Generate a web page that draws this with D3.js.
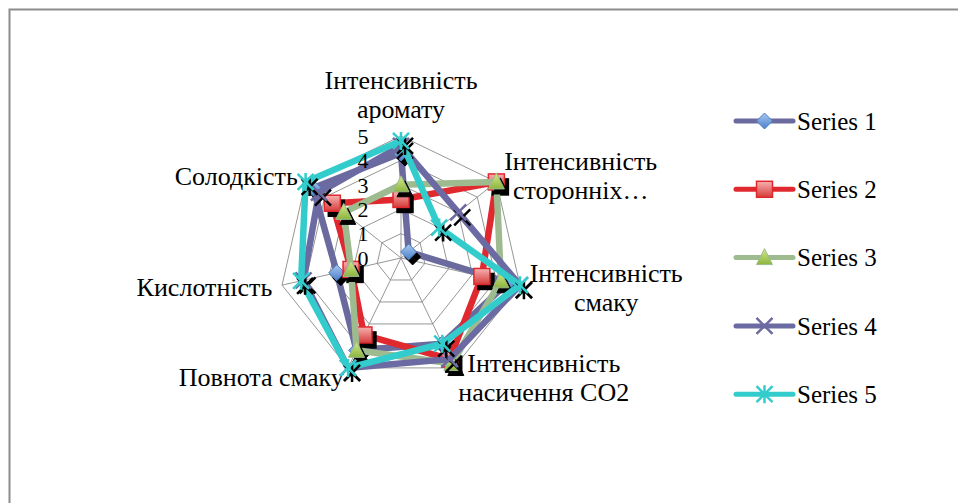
<!DOCTYPE html>
<html>
<head>
<meta charset="utf-8">
<script src="https://cdn.jsdelivr.net/npm/d3@7"></script>
<style>
  html, body { margin: 0; padding: 0; background: #fff; }
  svg { display: block; }
  text { font-family: "Liberation Serif", "Times New Roman", serif; fill: #000; }
</style>
</head>
<body>
<svg id="chart" width="958" height="503"></svg>
<script>
// Axis categories (one label per spoke, clockwise from the top)
const categories = [
  "Інтенсивність аромату",
  "Інтенсивність сторонніх…",
  "Інтенсивність смаку",
  "Інтенсивність насичення СО2",
  "Повнота смаку",
  "Кислотність",
  "Солодкість"
];
// Line breaks used when the category names are printed
const categoryLines = [
  ["Інтенсивність", "аромату"],
  ["Інтенсивність", "сторонніх…"],
  ["Інтенсивність", "смаку"],
  ["Інтенсивність", "насичення СО2"],
  ["Повнота смаку"],
  ["Кислотність"],
  ["Солодкість"]
];

const seriesNames = ["Series 1", "Series 2", "Series 3", "Series 4", "Series 5"];
const series1 = [4.3, 0.4, 4.5, 3.9, 4.2, 2.7, 4.6];
const series2 = [2.4, 5.0, 3.4, 4.6, 3.5, 2.1, 3.6];
const series3 = [3.0, 5.0, 4.2, 4.8, 4.2, 2.1, 3.0];
const series4 = [4.6, 3.0, 5.0, 4.6, 5.0, 4.1, 4.3];
const series5 = [4.8, 2.0, 5.0, 3.9, 5.0, 4.2, 5.0];
const tickValues = [0, 1, 2, 3, 4, 5];

const seriesValues = [series1, series2, series3, series4, series5];
const lineColors = ["#6A6A9F", "#E0282F", "#9DBB8F", "#6C6AA2", "#33CCCC"];
const markerTypes = ["diamond", "square", "triangle", "x", "star"];

const svg = d3.select("#chart");
const W = 958, H = 503;
const cx = 401, cy = 258, R = 122;

// Chart frame (only top and left edges fall inside the view)
svg.append("rect")
  .attr("x", 9.5).attr("y", 9.5)
  .attr("width", W + 20).attr("height", H + 20)
  .attr("fill", "none").attr("stroke", "#8c8c8c").attr("stroke-width", 2);

const defs = svg.append("defs");
function vGrad(id, c1, c2) {
  const g = defs.append("linearGradient").attr("id", id)
    .attr("x1", 0).attr("y1", 0).attr("x2", 0).attr("y2", 1);
  g.append("stop").attr("offset", "0%").attr("stop-color", c1);
  g.append("stop").attr("offset", "100%").attr("stop-color", c2);
}
vGrad("gDiamond", "#A9C8F0", "#4A7FCB");
vGrad("gSquare", "#F7B2B2", "#D63A3A");
vGrad("gTriangle", "#D4EB8C", "#8DB43E");

const rScale = d3.scaleLinear().domain([0, 5]).range([0, R]);
const angle = d3.scaleLinear().domain([0, categories.length]).range([0, 2 * Math.PI]);

function pt(i, v) {
  const a = angle(i), r = rScale(v);
  return [cx + r * Math.sin(a), cy - r * Math.cos(a)];
}

// Web grid
const grid = svg.append("g");
tickValues.filter(t => t > 0).forEach(t => {
  grid.append("path")
    .attr("d", d3.line()(categories.map((c, i) => pt(i, t))) + "Z")
    .attr("fill", "none").attr("stroke", "#8a8a8a").attr("stroke-width", 0.9);
});
categories.forEach((c, i) => {
  const [x, y] = pt(i, 5);
  grid.append("line").attr("x1", cx).attr("y1", cy).attr("x2", x).attr("y2", y)
    .attr("stroke", "#8a8a8a").attr("stroke-width", 0.9);
});

// Category labels
const labelFont = 26, lineH = 29;
const labels = svg.append("g").attr("font-size", labelFont);
categories.forEach((c, i) => {
  const a = angle(i);
  const s = Math.sin(a), co = Math.cos(a);
  const [px, py] = [cx + (R + 10) * s, cy - (R + 10) * co];
  const lines = categoryLines[i];
  const g = labels.append("g");
  const texts = lines.map((ln, k) => g.append("text").attr("text-anchor", "middle").text(ln));
  const widths = texts.map(t => t.node().getComputedTextLength());
  const bw = d3.max(widths);
  const bh = lines.length * lineH;
  let centerX = px;
  if (s > 0.05) centerX = px + bw / 2;
  else if (s < -0.05) centerX = px - bw / 2;
  let top = py - bh / 2;
  if (co > 0.9) top = py - bh - 3;
  texts.forEach((t, k) => t.attr("x", centerX).attr("y", top + lineH * k + lineH / 2).attr("dy", "0.35em"));
});

// Marker shapes
function drawMarker(g, type, x, y, shadow) {
  const s = 8;
  if (type === "diamond") {
    g.append("path").attr("d", `M${x},${y - s}L${x + s},${y}L${x},${y + s}L${x - s},${y}Z`)
      .attr("fill", shadow ? "#000" : "url(#gDiamond)")
      .attr("stroke", shadow ? "#000" : "#4C7EC0").attr("stroke-width", 1);
  } else if (type === "square") {
    g.append("rect").attr("x", x - s).attr("y", y - s).attr("width", 2 * s).attr("height", 2 * s)
      .attr("fill", shadow ? "#000" : "url(#gSquare)")
      .attr("stroke", shadow ? "#000" : "#E0282F").attr("stroke-width", 1.5);
  } else if (type === "triangle") {
    g.append("path").attr("d", `M${x},${y - s - 1}L${x + s},${y + s - 1}L${x - s},${y + s - 1}Z`)
      .attr("fill", shadow ? "#000" : "url(#gTriangle)")
      .attr("stroke", shadow ? "#000" : "#9DBB8F").attr("stroke-width", 1);
  } else if (type === "x") {
    g.append("path").attr("d", `M${x - s},${y - s}L${x + s},${y + s}M${x - s},${y + s}L${x + s},${y - s}`)
      .attr("fill", "none").attr("stroke", shadow ? "#000" : "#6C6AA2").attr("stroke-width", 2.5);
  } else if (type === "star") {
    g.append("path").attr("d", `M${x - s},${y - s}L${x + s},${y + s}M${x - s},${y + s}L${x + s},${y - s}M${x},${y - s - 1}L${x},${y + s + 1}`)
      .attr("fill", "none").attr("stroke", shadow ? "#000" : "#33CCCC").attr("stroke-width", 2.5);
  }
}

// Series: closed outline, marker shadows, then markers
const lineGen = d3.line().curve(d3.curveLinearClosed);
seriesValues.forEach((vals, si) => {
  const g = svg.append("g");
  const pts = vals.map((v, i) => pt(i, v));
  g.append("path").attr("d", lineGen(pts))
    .attr("fill", "none").attr("stroke", lineColors[si])
    .attr("stroke-width", 6.5).attr("stroke-linejoin", "round");
  pts.forEach(p => drawMarker(g, markerTypes[si], p[0] + 4, p[1] + 5, true));
  pts.forEach(p => drawMarker(g, markerTypes[si], p[0], p[1], false));
});

// Radial axis tick labels
const ticks = svg.append("g").attr("font-size", 22);
tickValues.forEach(t => {
  ticks.append("text").attr("x", cx - 38).attr("y", cy - rScale(t))
    .attr("dy", "0.35em").attr("text-anchor", "middle").text(t);
});

// Legend
const legend = svg.append("g").attr("font-size", 25);
seriesNames.forEach((name, si) => {
  const y = 121 + si * 68.3;
  legend.append("line").attr("x1", 736).attr("x2", 793).attr("y1", y).attr("y2", y)
    .attr("stroke", lineColors[si]).attr("stroke-width", 5).attr("stroke-linecap", "round");
  drawMarker(legend, markerTypes[si], 764.5, y, false);
  legend.append("text").attr("x", 797).attr("y", y).attr("dy", "0.35em").text(name);
});
</script>
</body>
</html>
